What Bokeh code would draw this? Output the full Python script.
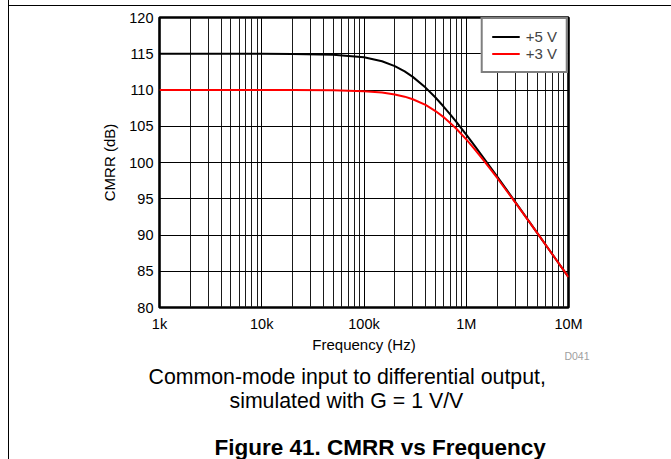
from bokeh.plotting import figure
from bokeh.models import FixedTicker, Legend, LegendItem, Range1d, Title
from bokeh.embed import file_html
from bokeh.resources import INLINE

# ---- data ----
freq_hz = [1e3, 2e3, 5e3, 1e4, 2e4, 5e4, 1e5, 1.5e5, 2e5, 2.5e5, 3e5, 4e5, 5e5, 6e5,
           7e5, 8e5, 1e6, 1.2e6, 1.5e6, 2e6, 3e6, 5e6, 7e6, 1e7]
cmrr_5v = [115.0, 115.0, 115.0, 115.0, 114.98, 114.87, 114.51, 113.96, 113.29, 112.56,
           111.81, 110.33, 108.96, 107.72, 106.61, 105.60, 103.84, 102.36, 100.51, 98.08,
           94.61, 90.19, 87.28, 84.19]
cmrr_3v = [110.0, 110.0, 110.0, 110.0, 110.0, 109.96, 109.84, 109.64, 109.39, 109.08,
           108.72, 107.94, 107.10, 106.26, 105.43, 104.65, 103.19, 101.89, 100.20, 97.90,
           94.53, 90.18, 87.28, 84.19]
series_names = ["+5 V", "+3 V"]
x_ticks = [1e3, 1e4, 1e5, 1e6, 1e7]
x_tick_labels = ["1k", "10k", "100k", "1M", "10M"]
y_ticks = [80, 85, 90, 95, 100, 105, 110, 115, 120]

FONT = "Liberation Sans"

p = figure(width=671, height=459, x_axis_type="log",
           x_range=Range1d(1e3, 1e7), y_range=Range1d(80, 120),
           output_backend="svg", toolbar_location=None,
           min_border_left=159, min_border_right=103,
           min_border_top=17, min_border_bottom=152,
           border_fill_color=None, background_fill_color="white")
# thin page rules: a vertical one at the left and a horizontal one near the top
p.styles = {
    "background-image": "linear-gradient(#000,#000), linear-gradient(#000,#000)",
    "background-size": "1.3px 100%, 100% 1.3px",
    "background-position": "7.6px 0px, 8px 4.6px",
    "background-repeat": "no-repeat",
}

p.outline_line_color = "black"
p.outline_line_width = 2.6

minor = [m * d for d in x_ticks[:-1] for m in range(2, 10)]
p.xaxis.ticker = FixedTicker(ticks=x_ticks, minor_ticks=minor)
p.yaxis.ticker = FixedTicker(ticks=y_ticks)
p.xaxis.major_label_overrides = {int(t): l for t, l in zip(x_ticks, x_tick_labels)}

for ax in (p.xaxis[0], p.yaxis[0]):
    ax.axis_line_color = None
    ax.major_tick_line_color = None
    ax.minor_tick_line_color = None
    ax.major_tick_out = 0
    ax.major_tick_in = 0
    ax.minor_tick_out = 0
    ax.minor_tick_in = 0
    ax.major_label_text_font = FONT
    ax.major_label_text_font_size = "14.5px"
    ax.major_label_text_color = "black"
    ax.axis_label_text_font = FONT
    ax.axis_label_text_font_size = "15px"
    ax.axis_label_text_font_style = "normal"
    ax.axis_label_text_color = "black"

p.xaxis.axis_label = "Frequency (Hz)"
p.yaxis.axis_label = "CMRR (dB)"
p.xaxis.major_label_standoff = 8
p.xaxis.axis_label_standoff = 1
p.yaxis.major_label_standoff = 6
p.yaxis.axis_label_standoff = 8

p.xgrid.grid_line_color = "black"
p.xgrid.grid_line_width = 1
p.xgrid.minor_grid_line_color = "#1a1a1a"
p.xgrid.minor_grid_line_width = 1
p.ygrid.grid_line_color = "black"
p.ygrid.grid_line_width = 1

r5 = p.line(freq_hz, cmrr_5v, line_color="black", line_width=2)
r3 = p.line(freq_hz, cmrr_3v, line_color="#ff0000", line_width=2)

legend = Legend(items=[LegendItem(label=series_names[0], renderers=[r5]),
                       LegendItem(label=series_names[1], renderers=[r3])],
                location="top_right", margin=0, padding=9, spacing=0,
                glyph_width=28, glyph_height=17, label_height=17, label_standoff=6,
                border_line_color="black", border_line_width=2,
                label_text_font=FONT, label_text_font_size="15px",
                background_fill_color="white", background_fill_alpha=1)
p.add_layout(legend)

def add_title(text, size, standoff, align="left", offset=0, valign="bottom",
              bold=False, color="black"):
    p.add_layout(Title(text=text, align=align, offset=offset, standoff=standoff,
                       vertical_align=valign,
                       text_font=FONT, text_font_size=size,
                       text_font_style="bold" if bold else "normal",
                       text_color=color), "below")

# drawing id, tucked up beside the axis label
add_title("D041", "10.5px", -11.8, align="right", offset=-21, valign="top", color="#a0a0a0")
add_title("Common-mode input to differential output,", "21.3px", 10.8, offset=-11)
add_title("simulated with G = 1 V/V", "21.3px", -15, offset=70)
add_title(" ", "1px", 23.9)
add_title("Figure 41. CMRR vs Frequency", "22.5px", 0, offset=55, bold=True)

open("out.html", "w").write(file_html(p, INLINE))
